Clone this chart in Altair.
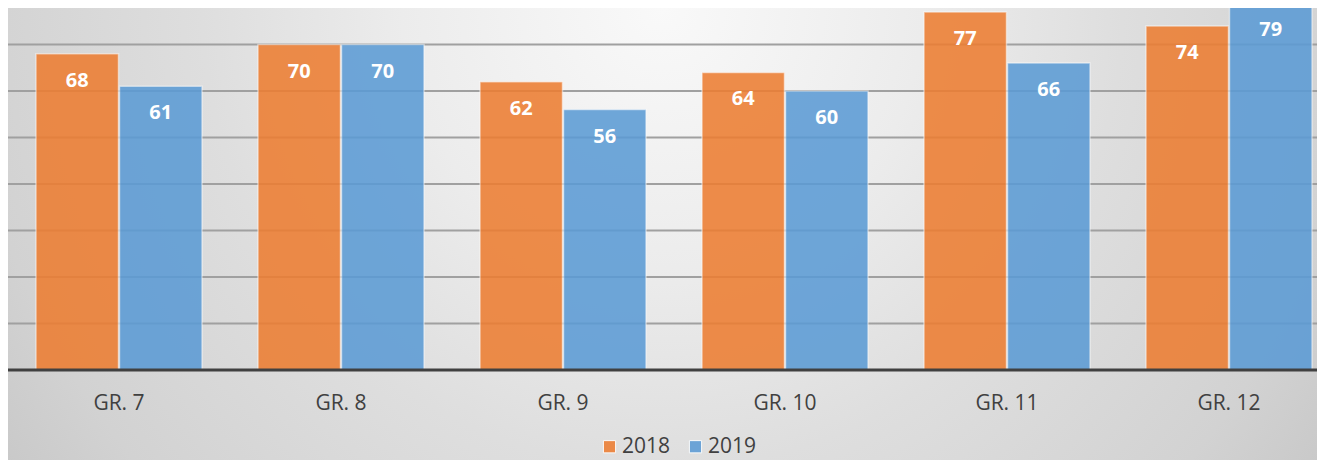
import altair as alt
import pandas as pd

grades = ["GR. 7", "GR. 8", "GR. 9", "GR. 10", "GR. 11", "GR. 12"]
years = ["2018", "2019"]
values_2018 = [68, 70, 62, 64, 77, 74]
values_2019 = [61, 70, 56, 60, 66, 79]
grid_values = [10, 20, 30, 40, 50, 60, 70, 80]
base_value = [0]
colors = ["#ED7D31", "#5B9BD5"]

rows = []
for g, a, b in zip(grades, values_2018, values_2019):
    rows.append({"grade": g, "year": "2018", "value": a})
    rows.append({"grade": g, "year": "2019", "value": b})
df = pd.DataFrame(rows)

W = 1309
H = 362
yscale = alt.Scale(domain=[0, 80], range=[H, H - 80 * 4.65])
xscale = alt.Scale(range=[0, 1332], paddingInner=0.252, paddingOuter=0.126)
font = "Open Sans"

bg = alt.Chart(pd.DataFrame({"a": [0]})).mark_rect(
    clip=False,
    fill=alt.RadialGradient(
        gradient="radial",
        x1=0.5, y1=0.5, r1=0, x2=0.5, y2=0.5, r2=0.62,
        stops=[
            alt.GradientStop(offset=0, color="#f9f9f9"),
            alt.GradientStop(offset=0.3, color="#ececec"),
            alt.GradientStop(offset=0.53, color="#dedede"),
            alt.GradientStop(offset=0.8, color="#d2d2d2"),
            alt.GradientStop(offset=0.96, color="#c6c6c6"),
            alt.GradientStop(offset=1, color="#c3c3c3"),
        ],
    ),
).encode(x=alt.value(0), x2=alt.value(W), y=alt.value(-700), y2=alt.value(700))

grid = alt.Chart(pd.DataFrame({"v": grid_values})).mark_rule(
    color="#a0a0a0", strokeWidth=2
).encode(y=alt.Y("v:Q", scale=yscale, axis=None), x=alt.value(0), x2=alt.value(W))

xenc = alt.X(
    "grade:N",
    sort=grades,
    scale=xscale,
    axis=alt.Axis(
        title=None, labelAngle=0, ticks=False, tickSize=0, domain=False,
        labelFont=font, labelFontSize=21, labelColor="#404040",
        labelPadding=22, zindex=1,
    ),
)
xoff = alt.XOffset("year:N", sort=years, scale=alt.Scale(paddingInner=0.012))

bars = alt.Chart(df).mark_bar(
    opacity=0.87, stroke="white", strokeOpacity=0.55, strokeWidth=1.5
).encode(
    x=xenc,
    xOffset=xoff,
    y=alt.Y("value:Q", scale=yscale, axis=None),
    color=alt.Color(
        "year:N",
        scale=alt.Scale(domain=years, range=colors),
        legend=alt.Legend(
            title=None, orient="none", legendX=591, legendY=428,
            direction="horizontal", symbolType="square", symbolSize=150,
            labelFont=font, labelFontSize=21, labelColor="#404040",
            labelOffset=2, columnPadding=14, padding=0,
            symbolStrokeColor="white", symbolStrokeWidth=1,
        ),
    ),
)

labels = alt.Chart(df).mark_text(
    color="white", font=font, fontWeight="bold", fontSize=20,
    baseline="middle", dy=27,
).encode(
    x=alt.X("grade:N", sort=grades, scale=xscale),
    xOffset=xoff,
    y=alt.Y("value:Q", scale=yscale, axis=None),
    text="value:Q",
)

base = alt.Chart(pd.DataFrame({"v": base_value})).mark_rule(
    color="#404040", strokeWidth=3
).encode(y=alt.Y("v:Q", scale=yscale, axis=None), x=alt.value(0), x2=alt.value(W))

chart = alt.layer(bg, grid, bars, labels, base).properties(
    width=W,
    height=H,
    padding={"left": 0, "top": 0, "right": 0, "bottom": 90},
    autosize=alt.AutoSizeParams(type="none"),
).configure_view(stroke=None)

chart.save("out.html", embed_options={"renderer": "svg", "actions": False})
